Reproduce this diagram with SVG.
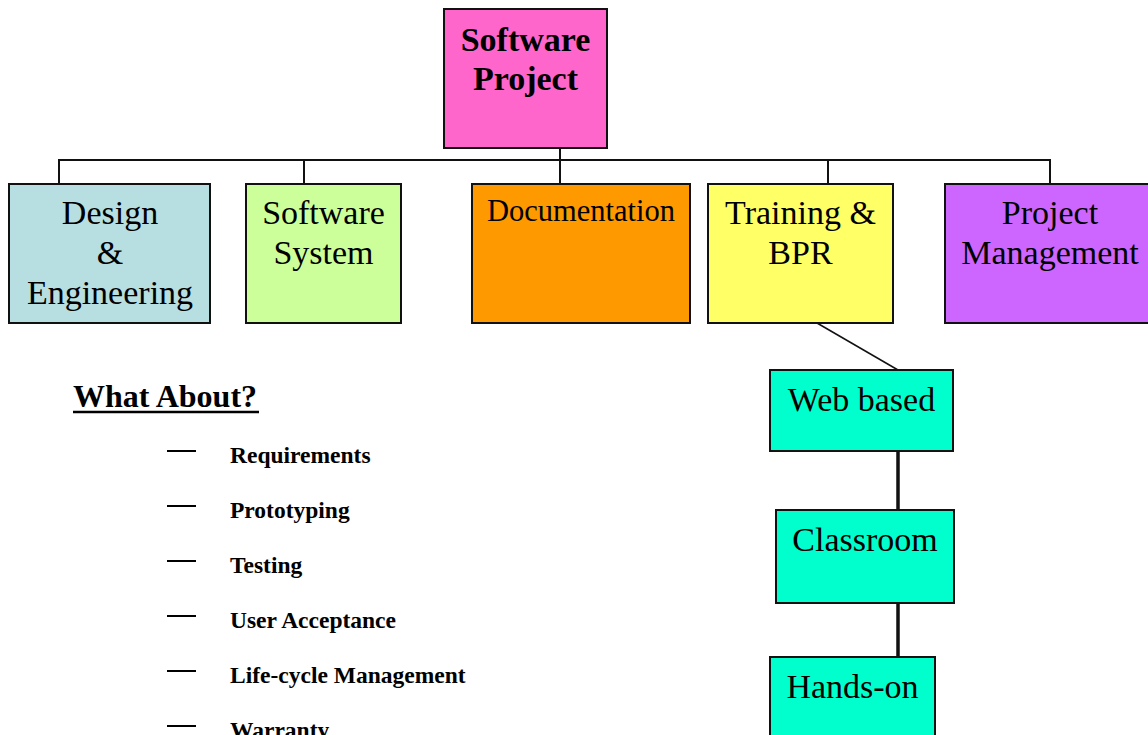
<svg xmlns="http://www.w3.org/2000/svg" width="1148" height="735" viewBox="0 0 1148 735">
<style>
.box{stroke:#111;stroke-width:2}
.t{font-family:"Liberation Serif","Times New Roman",serif;font-size:34px;fill:#000;text-anchor:middle}
.b{font-weight:bold}
.c{stroke:#111;fill:none}
.li{font-family:"Liberation Serif","Times New Roman",serif;font-size:23.5px;font-weight:bold;fill:#000}
</style>
<rect width="1148" height="735" fill="#fff"/>
<g id="connectors">
<path class="c" stroke-width="2" d="M59 184V160H1050V184M304 160V184M560 148V184M828 160V184"/>
<path class="c" stroke-width="1.5" d="M817 323L898 370"/>
<path class="c" stroke-width="3.5" d="M898 451V510M898 603V657"/>
</g>
<g id="software-project">
<rect class="box" x="444" y="9" width="163" height="139" fill="#FF66CC"/>
<text class="t b" x="525.5" y="51">Software</text>
<text class="t b" x="525.5" y="90">Project</text>
</g>
<g id="design-engineering">
<rect class="box" x="9" y="184" width="201" height="139" fill="#B7DEE1"/>
<text class="t" x="110" y="224">Design</text>
<text class="t" x="110" y="264">&amp;</text>
<text class="t" x="110" y="304">Engineering</text>
</g>
<g id="software-system">
<rect class="box" x="246" y="184" width="155" height="139" fill="#CCFF99"/>
<text class="t" x="323.5" y="224">Software</text>
<text class="t" x="323.5" y="264">System</text>
</g>
<g id="documentation">
<rect class="box" x="472" y="184" width="218" height="139" fill="#FF9900"/>
<text class="t" x="581" y="221" style="font-size:30.5px">Documentation</text>
</g>
<g id="training-bpr">
<rect class="box" x="708" y="184" width="185" height="139" fill="#FFFF66"/>
<text class="t" x="800.5" y="224">Training &amp;</text>
<text class="t" x="800.5" y="264">BPR</text>
</g>
<g id="project-management">
<rect class="box" x="945" y="184" width="210" height="139" fill="#CC66FF"/>
<text class="t" x="1050" y="224">Project</text>
<text class="t" x="1050" y="264">Management</text>
</g>
<g id="web-based">
<rect class="box" x="770" y="370" width="183" height="81" fill="#00FFCC"/>
<text class="t" x="861.5" y="411">Web based</text>
</g>
<g id="classroom">
<rect class="box" x="776" y="510" width="178" height="93" fill="#00FFCC"/>
<text class="t" x="865" y="551">Classroom</text>
</g>
<g id="hands-on">
<rect class="box" x="770" y="657" width="165" height="90" fill="#00FFCC"/>
<text class="t" x="852.5" y="698">Hands-on</text>
</g>
<g id="what-about">
<text x="73" y="407" style="font-family:'Liberation Serif','Times New Roman',serif;font-size:32px;font-weight:bold">What About?</text>
<line x1="73" y1="412" x2="259" y2="412" stroke="#000" stroke-width="2.5"/>
<path stroke="#000" stroke-width="2" d="M167 451H196M167 506H196M167 561H196M167 616H196M167 671H196M167 726H196"/>
<text class="li" x="230" y="463">Requirements</text>
<text class="li" x="230" y="518">Prototyping</text>
<text class="li" x="230" y="573">Testing</text>
<text class="li" x="230" y="628">User Acceptance</text>
<text class="li" x="230" y="683">Life-cycle Management</text>
<text class="li" x="230" y="738">Warranty</text>
</g>
</svg>
